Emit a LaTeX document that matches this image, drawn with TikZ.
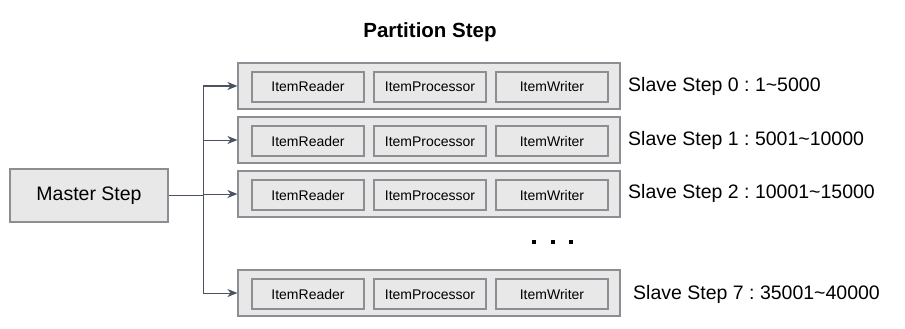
\documentclass[tikz,border=0pt]{standalone}
\usepackage{fontspec}
\setmainfont{Liberation Sans}
\usetikzlibrary{arrows.meta}
\definecolor{boxfill}{HTML}{E8E8E8}
\definecolor{boxline}{HTML}{8C8E94}
\definecolor{conn}{HTML}{4B5363}
\frenchspacing
\begin{document}
\begin{tikzpicture}[x=1pt,y=-1pt,
  outerbox/.style={draw=boxline,fill=boxfill,line width=1.1pt,minimum width=382pt,minimum height=46pt,inner sep=0pt},
  innerbox/.style={draw=boxline,fill=boxfill,line width=1.1pt,minimum width=112pt,minimum height=30pt,inner sep=0pt,text height=10pt,text depth=0pt,font=\fontsize{14}{16}\selectfont},
  masterbox/.style={draw=boxline,fill=boxfill,line width=1.1pt,minimum width=158pt,minimum height=53pt,inner sep=0pt,font=\fontsize{19.5}{23}\selectfont},
  slavelabel/.style={anchor=west,inner sep=0pt,font=\fontsize{19.5}{23}\selectfont},
  connector/.style={draw=conn,line width=1pt},
  arr/.style={connector,-{Stealth[length=10pt,width=8pt,inset=3pt]}},
  dotsq/.style={fill=black,minimum size=4pt,inner sep=0pt}]
\useasboundingbox (0,0) rectangle (905,329);
\node[font=\fontsize{20.5}{24}\selectfont\bfseries] (title) at (430,32) {Partition Step};
\node[masterbox] (master) at (89,195.5) {Master Step};
\foreach \n/\y in {r0/86,r1/140,r2/194,r7/293}{
  \node[outerbox] (\n) at (429,\y) {};
  \node[innerbox] (\n a) at (308,\y+1) {ItemReader};
  \node[innerbox] (\n b) at (430,\y+1) {ItemProcessor};
  \node[innerbox] (\n c) at (552,\y+1) {ItemWriter};
}
\node[slavelabel] (l0) at (628,86) {Slave Step 0 : 1\textasciitilde5000};
\node[slavelabel] (l1) at (628,140) {Slave Step 1 : 5001\textasciitilde10000};
\node[slavelabel] (l2) at (628,193) {Slave Step 2 : 10001\textasciitilde15000};
\node[slavelabel] (l7) at (633,294) {Slave Step 7 : 35001\textasciitilde40000};
\node[dotsq] (d1) at (534,242) {};
\node[dotsq] (d2) at (552.5,242) {};
\node[dotsq] (d3) at (571,242) {};
\coordinate (j) at (203,195.5);
\coordinate (jt) at (203,86);
\coordinate (jb) at (203,293);
\draw[connector] (master.east) -- (j);
\draw[connector] (jt) -- (jb);
\draw[arr] (jt) -- (r0.west);
\draw[arr] (203,140) -- (r1.west);
\draw[arr] (203,194) -- (r2.west);
\draw[arr] (jb) -- (r7.west);
\end{tikzpicture}
\end{document}
